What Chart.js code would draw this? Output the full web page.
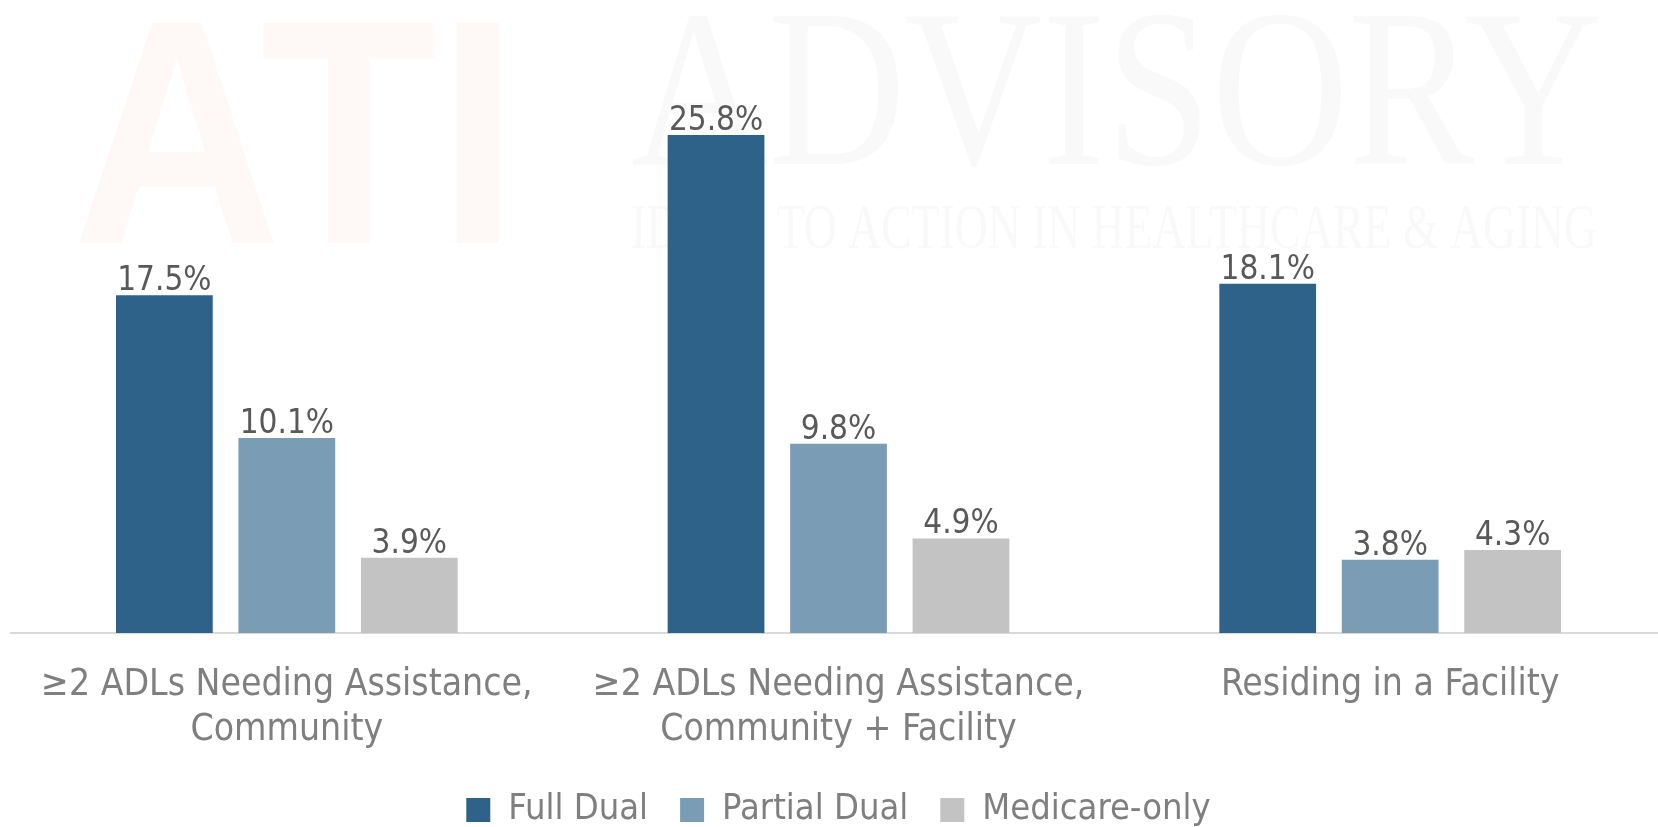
<!DOCTYPE html>
<html>
<head>
<meta charset="utf-8">
<script src="https://cdn.jsdelivr.net/npm/chart.js@4/dist/chart.umd.min.js"></script>
<style>
  html, body { margin: 0; padding: 0; background: #fff; overflow: hidden; }
  #wrap { position: relative; width: 1666px; height: 838px; }
</style>
</head>
<body>
<div id="wrap"><canvas id="chart"></canvas></div>
<script>
// categories and series
const categories = [
  ["≥2 ADLs Needing Assistance,", "Community"],
  ["≥2 ADLs Needing Assistance,", "Community + Facility"],
  "Residing in a Facility"
];
const seriesNames = ["Full Dual", "Partial Dual", "Medicare-only"];
const fullDual = [17.5, 25.8, 18.1];
const partialDual = [10.1, 9.8, 3.8];
const medicareOnly = [3.9, 4.9, 4.3];
const seriesColors = ["#2E6289", "#7A9DB5", "#C3C3C3"];

const FONT = '"DejaVu Sans Condensed", "DejaVu Sans", sans-serif';

// faint logo watermark behind the bars
function fitText(ctx, text, x, baseline, width) {
  const w = ctx.measureText(text).width;
  ctx.save();
  ctx.translate(x, baseline);
  ctx.scale(width / w, 1);
  ctx.fillText(text, 0, 0);
  ctx.restore();
}
const watermark = {
  id: "watermark",
  beforeDraw(chart) {
    const ctx = chart.ctx;
    ctx.save();
    ctx.textBaseline = "alphabetic";
    ctx.textAlign = "left";
    ctx.fillStyle = "#FEF9F7";
    ctx.font = 'bold 320px "Liberation Sans", sans-serif';
    fitText(ctx, "ATI", 72, 243, 446);
    ctx.fillStyle = "#F9F9F9";
    ctx.font = '224px "Liberation Serif", serif';
    fitText(ctx, "ADVISORY", 631, 164, 971);
    ctx.font = '63px "Liberation Serif", serif';
    fitText(ctx, "IDEAS TO ACTION IN HEALTHCARE & AGING", 631, 248, 966);
    ctx.restore();
  }
};

// value labels above bars
const valueLabels = {
  id: "valueLabels",
  afterDatasetsDraw(chart) {
    const ctx = chart.ctx;
    ctx.save();
    ctx.font = "33px " + FONT;
    ctx.fillStyle = "#595959";
    ctx.textAlign = "center";
    ctx.textBaseline = "alphabetic";
    chart.data.datasets.forEach((ds, i) => {
      chart.getDatasetMeta(i).data.forEach((bar, j) => {
        ctx.fillText(ds.data[j].toFixed(1) + "%", bar.x, bar.y - 5);
      });
    });
    ctx.restore();
  }
};

const ctx = document.getElementById("chart").getContext("2d");
new Chart(ctx, {
  type: "bar",
  data: {
    labels: categories,
    datasets: [fullDual, partialDual, medicareOnly].map((d, i) => ({
      label: seriesNames[i],
      data: d,
      backgroundColor: seriesColors[i],
      categoryPercentage: 0.666,
      barPercentage: 0.79
    }))
  },
  options: {
    responsive: true,
    maintainAspectRatio: false,
    animation: false,
    layout: { padding: { left: 11, top: 54, right: 0, bottom: 0 } },
    plugins: {
      legend: {
        position: "bottom",
        labels: {
          font: { family: FONT, size: 36 },
          color: "#7F7F7F",
          boxWidth: 24,
          boxHeight: 24,
          padding: 32
        }
      },
      tooltip: { enabled: false }
    },
    scales: {
      x: {
        grid: { display: false },
        border: { display: true, color: "#D9D9D9", width: 2 },
        ticks: {
          font: { family: FONT, size: 37, lineHeight: 1.22 },
          color: "#7F7F7F",
          padding: 22,
          maxRotation: 0,
          autoSkip: false
        },
        afterFit(scale) { scale.height = 127; }
      },
      y: {
        display: false,
        min: 0,
        max: 30
      }
    }
  },
  plugins: [watermark, valueLabels]
});
</script>
</body>
</html>
